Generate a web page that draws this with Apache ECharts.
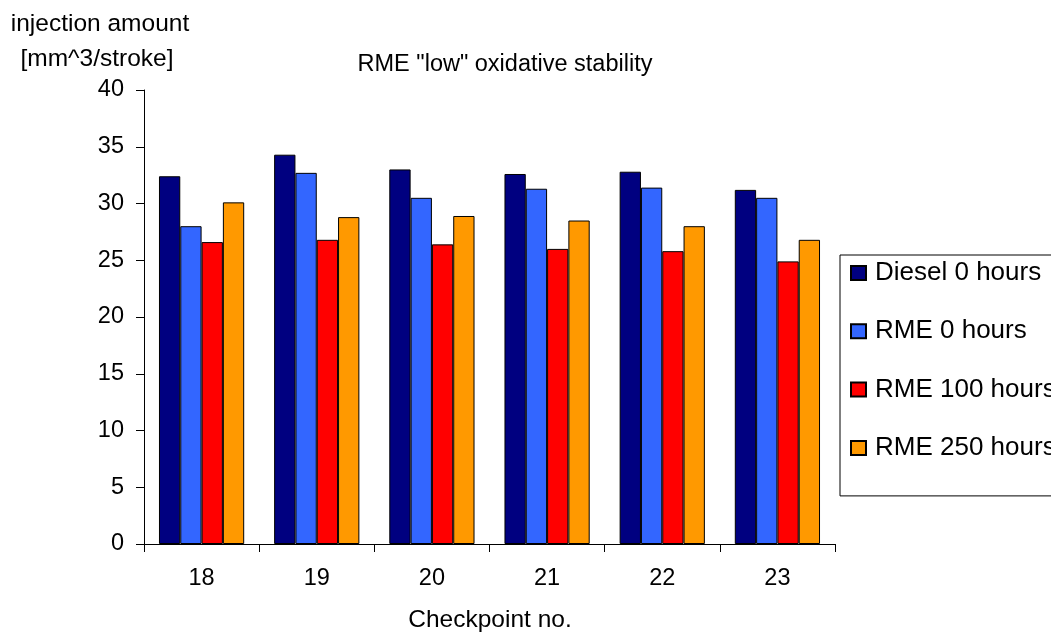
<!DOCTYPE html>
<html>
<head>
<meta charset="utf-8">
<script src="https://cdn.jsdelivr.net/npm/echarts@6/dist/echarts.min.js"></script>
<style>
  html, body { margin: 0; padding: 0; background: #fff; }
  #chart { width: 1051px; height: 632px; }
</style>
</head>
<body>
<div id="chart"></div>
<script>
// Checkpoints along the x axis
const checkpoints = ['18', '19', '20', '21', '22', '23'];

// Injection amount per checkpoint [mm^3/stroke]
const diesel0 = [32.4, 34.3, 33.0, 32.6, 32.8, 31.2];
const rme0    = [28.0, 32.7, 30.5, 31.3, 31.4, 30.5];
const rme100  = [26.6, 26.8, 26.4, 26.0, 25.8, 24.9];
const rme250  = [30.1, 28.8, 28.9, 28.5, 28.0, 26.8];

const seriesNames = ['Diesel 0 hours', 'RME 0 hours', 'RME 100 hours', 'RME 250 hours'];
const seriesColors = ['#000080', '#3366FF', '#FF0000', '#FF9900'];
const seriesData = [diesel0, rme0, rme100, rme250];

const font = 'Liberation Sans, Arial, sans-serif';
const chart = echarts.init(document.getElementById('chart'));

function plainText(size) {
  return { fontSize: size, fontWeight: 'normal', color: '#000', fontFamily: font };
}

chart.setOption({
  backgroundColor: '#ffffff',
  animation: false,
  textStyle: { fontFamily: font },
  title: [
    { text: 'RME "low" oxidative stability', left: 500, top: 48, textAlign: 'center', textStyle: plainText(23.5) },
    { text: 'injection amount', left: 95, top: 7, textAlign: 'center', textStyle: plainText(24.5) },
    { text: '[mm^3/stroke]', left: 92, top: 42, textAlign: 'center', textStyle: plainText(24.5) },
    { text: 'Checkpoint no.', left: 485, top: 603, textAlign: 'center', textStyle: plainText(24.5) }
  ],
  legend: {
    orient: 'vertical',
    left: 840, top: 255,
    data: seriesNames,
    itemWidth: 15, itemHeight: 14,
    itemGap: 32.3,
    padding: [5, 60, 35, 10],
    borderColor: '#000', borderWidth: 1,
    icon: 'rect',
    textStyle: { fontSize: 26, color: '#000', lineHeight: 24, padding: [0, 0, 0, 4], fontFamily: font }
  },
  grid: { left: 144, right: 216, top: 90, bottom: 88, containLabel: false },
  xAxis: {
    type: 'category',
    data: checkpoints,
    axisLine: { lineStyle: { color: '#000', width: 1 } },
    axisTick: { show: true, length: 8, lineStyle: { color: '#000' } },
    axisLabel: { fontSize: 23.5, color: '#000', margin: 23, fontFamily: font },
    splitLine: { show: false }
  },
  yAxis: {
    type: 'value',
    min: 0, max: 40, interval: 5,
    axisLine: { show: true, lineStyle: { color: '#000', width: 1 } },
    axisTick: { show: true, length: 8, lineStyle: { color: '#000' } },
    axisLabel: { fontSize: 23.5, color: '#000', margin: 20, fontFamily: font },
    splitLine: { show: false }
  },
  series: seriesNames.map((name, i) => ({
    name: name,
    type: 'bar',
    data: seriesData[i],
    barGap: '0%',
    barCategoryGap: '26%',
    itemStyle: { color: seriesColors[i], borderColor: '#000', borderWidth: 1 }
  }))
});
</script>
</body>
</html>
